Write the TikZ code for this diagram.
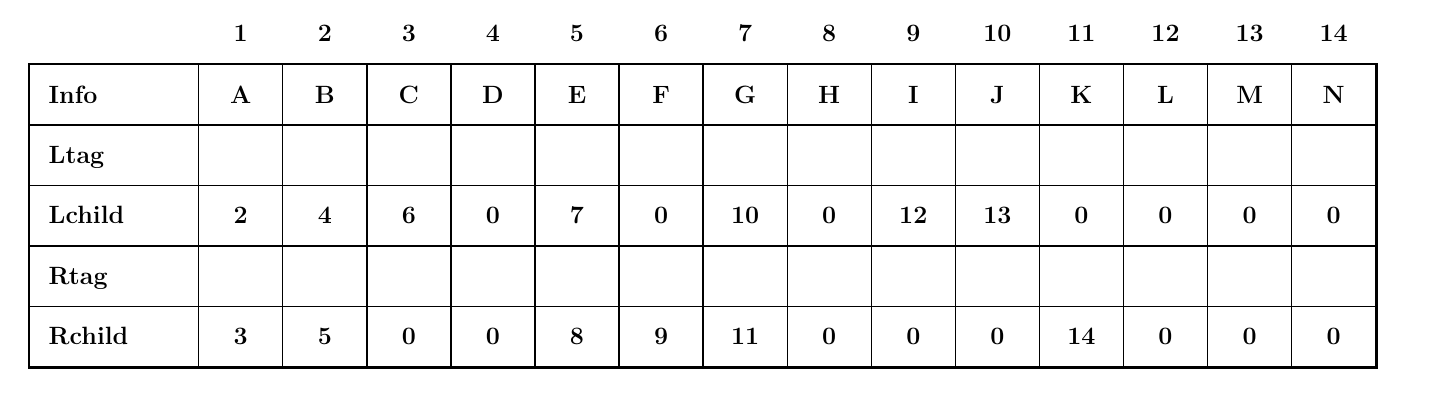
\documentclass[tikz,border=0pt]{standalone}
\newcommand{\tabfont}{\fontsize{25}{29}\selectfont\bfseries}
\begin{document}
\begin{tikzpicture}[x=1pt,y=-1pt,
  cell/.style={draw, line width=1.4pt, minimum width=84.07pt, minimum height=60.4pt,
    inner sep=0pt, anchor=north west, font=\tabfont, text height=16.5pt, text depth=0pt},
  labcell/.style={cell, minimum width=169pt, text width=131pt, inner xsep=19pt, align=left},
  idx/.style={font=\tabfont, inner sep=0pt, text height=16.5pt, text depth=0pt},
  frame/.style={draw, line width=2.6pt}]
\useasboundingbox (0,0) rectangle (1432,400);
% row labels
\foreach \lab [count=\r] in {Info,Ltag,Lchild,Rtag,Rchild}
  \node[labcell] (l\r) at (29,{64+(\r-1)*60.4}) {\lab};
% Info row
\foreach \v [count=\i] in {A,B,C,D,E,F,G,H,I,J,K,L,M,N}
  \node[cell] (c-\i-1) at ({198+(\i-1)*84.07},64) {\v};
% Ltag row
\foreach \i in {1,...,14}
  \node[cell] (c-\i-2) at ({198+(\i-1)*84.07},124.4) {};
% Lchild row
\foreach \v [count=\i] in {2,4,6,0,7,0,10,0,12,13,0,0,0,0}
  \node[cell] (c-\i-3) at ({198+(\i-1)*84.07},184.8) {\v};
% Rtag row
\foreach \i in {1,...,14}
  \node[cell] (c-\i-4) at ({198+(\i-1)*84.07},245.2) {};
% Rchild row
\foreach \v [count=\i] in {3,5,0,0,8,9,11,0,0,0,14,0,0,0}
  \node[cell] (c-\i-5) at ({198+(\i-1)*84.07},305.6) {\v};
% indices above
\foreach \i in {1,...,14}
  \node[idx] (n-\i) at ([yshift=31pt]c-\i-1.north) {\i};
% outer frame
\draw[frame] (l1.north west) rectangle (c-14-5.south east);
\end{tikzpicture}
\end{document}
